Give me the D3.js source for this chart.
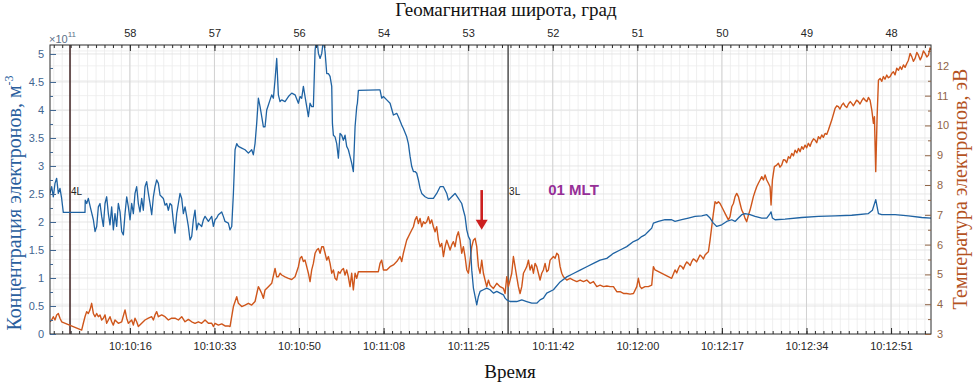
<!DOCTYPE html>
<html><head><meta charset="utf-8">
<script src="https://cdn.jsdelivr.net/npm/d3@7"></script>
<style>body{margin:0;background:#fff}svg{display:block}</style>
</head><body><svg id="c" width="975" height="382"></svg>
<script>
// seconds after 10:10:00 , electron density (x1e11 m^-3)
const densitySeries = [[0,2.51],[0.34,2.63],[0.68,2.45],[1.02,2.69],[1.36,2.78],[1.70,2.51],[2.04,2.60],[2.38,2.42],[2.72,2.17],[7.15,2.17],[7.2,2.39],[7.49,2.33],[7.83,2.42],[8.31,2.24],[8.86,2.04],[9.20,1.83],[9.54,1.92],[9.88,2.27],[10.22,2.33],[10.56,2.10],[10.90,1.92],[11.24,2.33],[11.58,2.45],[11.92,2.15],[12.26,1.95],[12.60,2.27],[12.94,1.86],[13.28,2.15],[13.62,1.92],[13.96,2.33],[14.31,2.18],[14.65,1.83],[14.99,1.77],[15.33,2.15],[15.67,2.45],[16.01,2.27],[16.35,2.04],[16.69,2.33],[17.03,2.15],[17.37,2.51],[17.71,2.63],[18.05,2.33],[18.39,2.18],[18.73,2.42],[19.07,2.21],[19.41,2.63],[19.75,2.72],[20.10,2.51],[20.44,2.33],[20.78,2.13],[21.12,2.45],[21.46,2.63],[21.80,2.75],[22.14,2.69],[22.48,2.48],[22.82,2.45],[23.16,2.42],[23.50,2.30],[23.84,2.33],[24.18,2.21],[24.52,2.33],[24.86,2.30],[25.20,2.01],[25.54,1.80],[25.89,2.15],[26.23,2.33],[26.57,2.51],[26.91,2.42],[27.25,2.15],[27.59,2.27],[27.93,2.10],[28.27,1.92],[28.61,1.68],[28.95,1.74],[29.29,2.04],[29.63,2.21],[29.97,1.86],[30.31,1.98],[30.99,1.92],[31.34,2.04],[31.68,2.10],[32.36,2.01],[33.04,2.10],[33.38,1.92],[33.72,2.04],[34.06,2.07],[34.40,2.13],[35.08,2.18],[35.42,2.10],[35.76,2.01],[36.44,1.98],[36.78,1.86],[37.13,1.92],[37.47,2.51],[37.81,3.29],[38.15,3.40],[38.49,3.35],[39.17,3.32],[39.85,3.29],[40.53,3.23],[41.21,3.29],[41.55,3.20],[41.89,3.40],[42.23,3.76],[42.57,4.21],[42.92,4.06],[43.26,3.88],[43.60,3.70],[43.94,3.70],[44.28,4.00],[44.62,4.09],[44.96,4.18],[45.30,4.27],[45.64,4.21],[45.98,4.54],[46.32,4.92],[46.66,4.27],[47.00,4.15],[47.34,4.18],[48.02,4.15],[48.71,4.24],[49.39,4.30],[50.07,4.27],[50.75,4.12],[51.09,4.24],[51.43,4.21],[51.77,4.42],[52.11,4.24],[52.45,4.06],[52.79,3.88],[53.13,4.12],[53.47,4.06],[53.81,4.06],[54.16,5.07],[54.50,5.30],[54.84,5.01],[55.18,4.92],[55.52,5.01],[55.86,5.25],[56.20,5.04],[56.54,4.65],[56.88,4.65],[57.22,4.60],[57.56,4.42],[57.70,3.76],[57.90,3.55],[58.24,3.52],[58.58,3.40],[58.92,3.14],[59.26,3.58],[59.60,3.55],[59.94,3.46],[60.28,3.55],[60.62,3.35],[60.96,3.29],[61.30,3.17],[61.64,3.05],[61.98,2.90],[62.33,3.70],[62.67,4.06],[62.80,4.12],[63.01,4.35],[67.09,4.36],[67.43,4.36],[67.77,4.21],[68.12,4.24],[68.80,4.18],[69.48,4.12],[70.16,3.91],[70.84,3.94],[71.18,3.88],[71.86,3.73],[72.20,3.67],[72.88,3.52],[73.22,3.40],[73.57,3.17],[73.91,2.99],[74.25,2.90],[74.59,2.90],[74.93,2.87],[75.27,2.75],[75.61,2.60],[75.95,2.51],[76.63,2.45],[77.31,2.42],[78.33,2.42],[79.01,2.51],[79.70,2.63],[80.38,2.63],[81.06,2.51],[81.40,2.39],[82.08,2.45],[82.76,2.51],[83.44,2.42],[84.12,2.33],[84.46,2.21],[84.80,2.10],[85.15,1.86],[85.49,1.74],[85.83,1.68],[86.17,1.14],[86.51,0.82],[87.19,0.52],[87.53,0.67],[87.87,0.76],[88.55,0.79],[89.23,0.82],[89.91,0.79],[90.60,0.73],[91.28,0.76],[91.96,0.73],[92.64,0.70],[92.98,0.64],[93.32,0.61],[94.00,0.58],[95.36,0.58],[96.39,0.61],[97.41,0.58],[98.43,0.55],[99.45,0.55],[100.13,0.61],[100.81,0.64],[101.49,0.73],[102.86,0.79],[104.22,0.93],[105.58,1.02],[106.94,1.08],[108.31,1.14],[109.67,1.20],[111.03,1.26],[112.39,1.32],[113.76,1.35],[115.12,1.44],[116.48,1.50],[117.84,1.56],[119.21,1.65],[120.23,1.69],[120.89,1.74],[121.57,1.77],[122.25,1.83],[122.94,1.89],[123.28,1.98],[124.30,2.01],[125.66,2.04],[127.02,2.04],[127.70,2.01],[129.07,2.04],[130.43,2.07],[131.79,2.10],[133.15,2.11],[134.18,2.13],[134.86,2.07],[135.54,1.98],[136.22,1.92],[137.24,1.95],[138.26,2.01],[139.29,2.04],[139.97,2.01],[140.65,2.07],[141.33,2.13],[142.01,2.15],[143.03,2.13],[144.05,2.10],[145.42,2.07],[146.44,2.07],[147.12,2.15],[147.32,2.18],[147.60,2.07],[148.14,2.04],[150.18,2.05],[153.59,2.08],[157.00,2.10],[160.40,2.11],[163.81,2.12],[167.21,2.15],[168.03,2.21],[168.71,2.40],[169.26,2.15],[169.94,2.13],[172.66,2.13],[175.39,2.11],[178.11,2.08],[180,2.07]];

// seconds after 10:10:00 , electron temperature (eV)
const temperatureSeries = [[0,3.41],[0.34,3.47],[0.68,3.58],[1.02,3.47],[1.36,3.64],[1.70,3.69],[2.04,3.53],[2.38,3.41],[6.47,3.13],[6.81,3.36],[7.15,3.58],[7.49,3.75],[7.83,3.69],[8.17,3.81],[8.51,4.03],[8.86,3.69],[9.20,3.58],[9.54,3.69],[9.88,3.58],[10.22,3.64],[10.56,3.47],[10.90,3.53],[11.24,3.64],[11.58,3.36],[11.92,3.47],[12.26,3.58],[12.60,3.41],[12.94,3.30],[13.28,3.47],[13.96,3.36],[14.65,3.41],[15.33,3.81],[15.67,3.53],[16.01,3.36],[16.69,3.47],[17.03,3.30],[17.37,3.53],[17.71,3.41],[18.05,3.25],[18.73,3.36],[19.41,3.47],[20.10,3.53],[20.78,3.58],[21.12,3.47],[21.46,3.64],[21.80,3.75],[22.14,3.58],[22.82,3.64],[23.50,3.58],[24.18,3.47],[24.86,3.53],[25.54,3.53],[26.23,3.47],[26.91,3.58],[27.59,3.41],[28.27,3.49],[28.95,3.41],[29.63,3.36],[30.31,3.41],[30.99,3.36],[31.68,3.47],[32.36,3.36],[33.04,3.36],[33.38,3.25],[33.72,3.36],[34.40,3.30],[35.08,3.34],[35.76,3.27],[36.44,3.27],[36.78,3.25],[37.47,3.92],[38.15,4.25],[38.49,4.03],[39.17,3.92],[39.85,3.97],[40.53,4.03],[41.21,3.97],[41.89,4.09],[42.57,4.59],[42.92,4.48],[43.26,4.36],[43.60,4.20],[43.94,4.48],[44.62,4.59],[45.30,4.70],[45.98,5.20],[46.32,4.92],[46.66,4.92],[47.00,5.04],[47.34,4.98],[48.02,4.92],[48.71,4.87],[49.39,4.83],[50.07,4.92],[50.75,5.26],[51.09,5.54],[51.43,5.60],[51.77,5.43],[52.11,5.48],[52.45,5.26],[52.79,5.04],[53.13,4.76],[53.47,5.15],[53.81,5.37],[54.16,5.71],[54.50,5.82],[54.84,5.87],[55.18,5.71],[55.52,5.93],[55.86,5.93],[56.20,5.71],[56.54,5.48],[56.88,5.60],[57.22,5.37],[57.56,5.04],[57.90,5.15],[58.24,4.87],[58.58,4.81],[58.92,5.09],[59.26,5.04],[59.60,5.15],[59.95,5.20],[60.28,4.98],[60.62,5.15],[60.96,4.92],[61.30,4.59],[61.64,5.04],[61.98,4.48],[62.33,5.04],[62.67,4.87],[63.01,5.09],[67.09,5.09],[67.43,5.37],[67.77,5.48],[68.12,5.15],[68.80,5.15],[69.48,5.26],[70.16,5.32],[70.84,5.43],[71.52,5.60],[71.86,5.43],[72.20,5.71],[72.88,6.15],[73.57,6.38],[74.25,6.60],[74.59,6.83],[74.93,6.94],[75.27,6.71],[75.61,6.88],[75.95,6.60],[76.29,6.77],[76.63,6.71],[76.97,6.77],[77.31,6.94],[77.65,6.71],[77.99,6.83],[78.33,6.60],[78.67,6.43],[79.01,6.60],[79.36,6.15],[79.70,5.93],[80.04,6.04],[80.38,5.60],[80.72,5.93],[81.06,6.15],[81.40,5.99],[81.74,5.82],[82.08,5.99],[82.42,6.10],[82.76,5.93],[83.10,6.27],[83.44,6.43],[83.78,6.15],[84.12,5.71],[84.46,5.93],[84.80,5.60],[85.15,5.15],[85.49,5.04],[85.83,5.48],[86.17,5.93],[86.51,6.15],[86.85,6.21],[87.19,5.93],[87.53,5.26],[87.87,5.04],[88.21,5.48],[88.55,5.04],[88.89,4.81],[89.23,4.59],[89.57,4.81],[89.91,4.64],[90.60,4.53],[91.28,4.70],[91.96,4.59],[92.64,4.53],[92.98,4.36],[93.32,4.92],[93.66,4.59],[94.00,4.81],[94.34,5.04],[94.68,5.60],[95.02,5.26],[95.36,4.92],[95.70,4.59],[96.04,4.36],[96.39,4.59],[96.73,5.04],[97.07,5.15],[97.41,5.26],[97.75,5.48],[98.09,5.15],[98.43,5.32],[98.77,5.04],[99.11,5.37],[99.45,5.26],[99.79,5.04],[100.13,4.81],[100.47,5.04],[100.81,5.15],[101.15,5.37],[101.49,5.09],[101.83,5.15],[102.18,5.48],[102.86,5.60],[103.20,5.54],[103.54,5.71],[103.88,5.65],[104.22,5.26],[104.56,5.04],[104.90,4.92],[105.58,4.81],[106.26,4.87],[106.94,4.81],[107.63,4.76],[108.31,4.81],[108.99,4.76],[109.67,4.81],[110.35,4.70],[111.03,4.76],[111.71,4.59],[112.39,4.64],[113.08,4.59],[113.76,4.61],[114.44,4.59],[115.12,4.59],[115.80,4.42],[116.48,4.42],[117.16,4.36],[117.84,4.36],[118.52,4.34],[119.21,4.36],[119.89,4.59],[120.21,4.87],[120.55,4.59],[120.89,4.53],[121.57,4.59],[122.25,4.59],[122.94,4.64],[123.28,5.26],[123.62,5.15],[127.02,4.87],[127.70,5.15],[128.05,5.05],[128.39,5.20],[128.70,5.30],[129.07,5.26],[129.40,5.18],[129.75,5.32],[130.10,5.42],[130.43,5.37],[130.80,5.30],[131.11,5.43],[131.45,5.52],[131.79,5.48],[132.10,5.42],[132.47,5.54],[132.80,5.65],[133.15,5.60],[133.50,5.52],[133.84,5.65],[134.18,5.71],[134.52,5.76],[134.86,6.15],[135.20,6.60],[135.54,7.05],[135.88,7.44],[136.22,7.38],[136.56,7.44],[136.90,7.38],[137.24,7.27],[137.58,7.16],[137.92,7.05],[138.26,6.94],[138.60,6.83],[138.94,6.94],[139.29,7.27],[139.63,7.38],[139.97,7.61],[140.31,7.72],[140.65,7.61],[140.99,7.38],[141.33,7.16],[141.67,7.05],[142.01,6.88],[142.35,6.77],[142.69,6.99],[143.03,7.16],[143.37,7.38],[143.71,7.61],[144.05,7.78],[144.39,7.94],[144.73,8.06],[145.08,8.17],[145.42,8.28],[145.76,8.17],[146.10,8.34],[146.44,8.17],[146.78,8.06],[147.12,7.94],[147.32,7.33],[147.60,8.17],[148.00,8.62],[148.48,8.67],[148.82,8.73],[149.15,8.60],[149.50,8.67],[149.85,8.85],[150.18,8.84],[150.50,8.75],[150.87,8.95],[151.20,8.90],[151.55,9.06],[151.90,8.98],[152.23,9.17],[152.60,9.08],[152.91,9.23],[153.25,9.12],[153.59,9.29],[153.90,9.20],[154.27,9.34],[154.60,9.25],[154.95,9.40],[155.30,9.30],[155.63,9.45],[156.00,9.55],[156.32,9.51],[156.65,9.42],[157.00,9.62],[157.35,9.55],[157.68,9.68],[158.00,9.60],[158.36,9.73],[158.70,9.70],[159.04,9.85],[159.72,10.18],[160.40,10.57],[160.75,10.66],[161.08,10.63],[161.40,10.55],[161.76,10.68],[162.10,10.75],[162.45,10.65],[162.80,10.60],[163.13,10.72],[163.50,10.80],[163.81,10.74],[164.15,10.66],[164.49,10.76],[164.80,10.85],[165.17,10.80],[165.50,10.72],[165.85,10.83],[166.20,10.92],[166.53,10.85],[166.90,10.80],[167.21,10.94],[167.55,10.85],[167.90,10.52],[168.24,10.07],[168.44,10.29],[168.71,8.45],[168.99,10.29],[169.26,11.52],[169.60,11.58],[169.95,11.48],[170.28,11.64],[170.60,11.55],[170.96,11.69],[171.30,11.60],[171.64,11.64],[172.00,11.75],[172.32,11.80],[172.66,11.70],[173.00,11.92],[173.35,11.85],[173.69,11.97],[174.00,11.88],[174.37,12.03],[174.70,11.95],[175.05,12.08],[175.39,12.19],[175.73,12.42],[176.07,12.31],[176.40,12.15],[176.75,12.25],[177.10,12.45],[177.43,12.36],[177.80,12.20],[178.11,12.31],[178.45,12.50],[178.79,12.42],[179.15,12.30],[179.48,12.36],[179.80,12.60],[180,12.53]];

const timeTicks = [16.32, 33.6, 50.88, 68.16, 85.44, 102.72, 120, 137.28, 154.56, 171.84];
const timeLabels = ["10:10:16","10:10:33","10:10:50","10:11:08","10:11:25","10:11:42","10:12:00","10:12:17","10:12:34","10:12:51"];
const latitudeLabels = ["58","57","56","54","53","52","51","50","49","48"];
const densityTicks = [0,0.5,1,1.5,2,2.5,3,3.5,4,4.5,5];
const densityTickLabels = ["0","0.5","1","1.5","2","2.5","3","3.5","4","4.5","5"];
const temperatureTicks = [3,4,5,6,7,8,9,10,11,12];
const shellMarkers = [{t:4.09, label:"4L", color:"#4a2f2f"}, {t:93.6, label:"3L", color:"#5a5a5a"}];
const mltNote = {t:101.8, v:2.48, text:"01 MLT"};
const arrowNote = {t:88.2, vTop:2.57, vTip:1.86};

const W=975,H=382, L=50, R=931, T=45, B=334;
const svg=d3.select("#c");
const x=d3.scaleLinear().domain([0,180]).range([L,R]);
const yL=d3.scaleLinear().domain([0,5.16]).range([B,T]);
const yR=d3.scaleLinear().domain([3,12.7]).range([B,T]);

// grid
const g=svg.append("g");
const minorT=[]; for(let k=0;k<=110;k++){const v=-0.96+k*1.728; if(v>0&&v<180) minorT.push(v);}
g.selectAll(".vm").data(minorT).join("line").attr("x1",d=>x(d)).attr("x2",d=>x(d)).attr("y1",T).attr("y2",B).attr("stroke","#ebebeb").attr("stroke-width",0.8);
const rGrid=d3.range(3.5,12.7,0.5);
g.selectAll(".hr").data(rGrid).join("line").attr("x1",L).attr("x2",R).attr("y1",d=>yR(d)).attr("y2",d=>yR(d)).attr("stroke","#ececec").attr("stroke-width",0.8);
g.selectAll(".hl").data(densityTicks.slice(1)).join("line").attr("x1",L).attr("x2",R).attr("y1",d=>yL(d)).attr("y2",d=>yL(d)).attr("stroke","#e0e0e0").attr("stroke-width",0.8);
g.selectAll(".vM").data(timeTicks).join("line").attr("x1",d=>x(d)).attr("x2",d=>x(d)).attr("y1",T).attr("y2",B).attr("stroke","#d2d2d2").attr("stroke-width",1);

// clip
svg.append("clipPath").attr("id","clp").append("rect").attr("x",L).attr("y",T).attr("width",R-L).attr("height",B-T);

// marker lines
svg.selectAll(".mk").data(shellMarkers).join("line").attr("x1",d=>x(d.t)).attr("x2",d=>x(d.t)).attr("y1",T).attr("y2",B).attr("stroke",d=>d.color).attr("stroke-width",1.6);

// series
const lineD=d3.line().x(d=>x(d[0])).y(d=>yL(d[1]));
const lineT=d3.line().x(d=>x(d[0])).y(d=>yR(d[1]));
const pl=svg.append("g").attr("clip-path","url(#clp)");
pl.append("path").datum(temperatureSeries).attr("d",lineT).attr("fill","none").attr("stroke","#cf561b").attr("stroke-width",1.4).attr("stroke-linejoin","round");
pl.append("path").datum(densitySeries).attr("d",lineD).attr("fill","none").attr("stroke","#1f63a3").attr("stroke-width",1.3).attr("stroke-linejoin","round");

// box
svg.append("rect").attr("x",L).attr("y",T).attr("width",R-L).attr("height",B-T).attr("fill","none").attr("stroke","#2b2b2b").attr("stroke-width",1);

function styleAxis(sel,color,tickColor){
  sel.select(".domain").remove();
  sel.selectAll("line").attr("stroke",tickColor||"#2b2b2b");
  sel.selectAll("text").attr("fill",color).style("font-family","'Liberation Sans', Arial, sans-serif").style("font-size","11px");
}
const xMinorAxis=(a)=>a.tickValues(minorT).tickFormat("").tickSize(-3);
svg.append("g").attr("transform",`translate(0,${B})`).call(xMinorAxis(d3.axisBottom(x))).call(s=>styleAxis(s,"#333"));
svg.append("g").attr("transform",`translate(0,${T})`).call(xMinorAxis(d3.axisTop(x))).call(s=>styleAxis(s,"#333"));
svg.append("g").attr("transform",`translate(0,${B})`).call(d3.axisBottom(x).tickValues(timeTicks).tickFormat((d,i)=>timeLabels[i]).tickSize(-6).tickPadding(8)).call(s=>styleAxis(s,"#262626"));
svg.append("g").attr("transform",`translate(0,${T})`).call(d3.axisTop(x).tickValues(timeTicks).tickFormat((d,i)=>latitudeLabels[i]).tickSize(-6).tickPadding(8)).call(s=>styleAxis(s,"#262626"));

svg.append("g").attr("transform",`translate(${L},0)`).call(d3.axisLeft(yL).tickValues(d3.range(0.25,5.16,0.5)).tickFormat("").tickSize(-3)).call(s=>styleAxis(s,"#3f6590","#3f6590"));
svg.append("g").attr("transform",`translate(${L},0)`).call(d3.axisLeft(yL).tickValues(densityTicks).tickFormat((d,i)=>densityTickLabels[i]).tickSize(-6).tickPadding(6)).call(s=>styleAxis(s,"#3f6590","#3f6590"));
svg.append("g").attr("transform",`translate(${R},0)`).call(d3.axisRight(yR).tickValues(d3.range(3.5,12.7,1)).tickFormat("").tickSize(-3)).call(s=>styleAxis(s,"#8f6446","#8f6446"));
svg.append("g").attr("transform",`translate(${R},0)`).call(d3.axisRight(yR).tickValues(temperatureTicks).tickFormat(d3.format("d")).tickSize(-6).tickPadding(6)).call(s=>styleAxis(s,"#8f6446","#8f6446"));

// exponent
const ex=svg.append("text").attr("x",L-1).attr("y",T-2).attr("fill","#5b7088").style("font-family","'Liberation Sans', Arial, sans-serif").style("font-size","11px");
ex.append("tspan").text("×10");
ex.append("tspan").attr("dy",-6).style("font-size","8px").text("11");

// annotations
const sans="'Liberation Sans', Arial, sans-serif";
svg.selectAll(".mkl").data(shellMarkers).join("text").attr("x",d=>x(d.t)+1).attr("y",yL(2.48)).text(d=>d.label).attr("fill","#222").style("font-family",sans).style("font-size","10px");
svg.append("text").attr("x",x(mltNote.t)).attr("y",yL(mltNote.v)).text(mltNote.text).attr("fill","#962f97").style("font-family",sans).style("font-size","15px").style("font-weight","bold");
const ax=x(arrowNote.t), ay1=yL(arrowNote.vTop), ay2=yL(arrowNote.vTip);
svg.append("line").attr("x1",ax).attr("x2",ax).attr("y1",ay1).attr("y2",ay2-9).attr("stroke","#cc1f1f").attr("stroke-width",2.6);
svg.append("path").attr("d",`M${ax-6},${ay2-10}L${ax+6},${ay2-10}L${ax},${ay2}Z`).attr("fill","#cc1f1f");

// axis titles
const serif="'Liberation Serif','Times New Roman',serif";
svg.append("text").attr("x",506).attr("y",16).attr("text-anchor","middle").text("Геомагнитная широта, град").attr("fill","#111").style("font-family",serif).style("font-size","19px");
svg.append("text").attr("x",510).attr("y",378).attr("text-anchor","middle").text("Время").attr("fill","#111").style("font-family",serif).style("font-size","19px");
const lt=svg.append("text").attr("transform","translate(21,203) rotate(-90)").attr("text-anchor","middle").attr("fill","#2a5f9e").style("font-family",serif).style("font-size","20px");
lt.append("tspan").text("Концентрация электронов, м");
lt.append("tspan").attr("dy",-8).style("font-size","12px").text("-3");
svg.append("text").attr("transform","translate(967,189) rotate(-90)").attr("text-anchor","middle").text("Температура электронов, эВ").attr("fill","#b4531f").style("font-family",serif).style("font-size","20px");
</script></body></html>
